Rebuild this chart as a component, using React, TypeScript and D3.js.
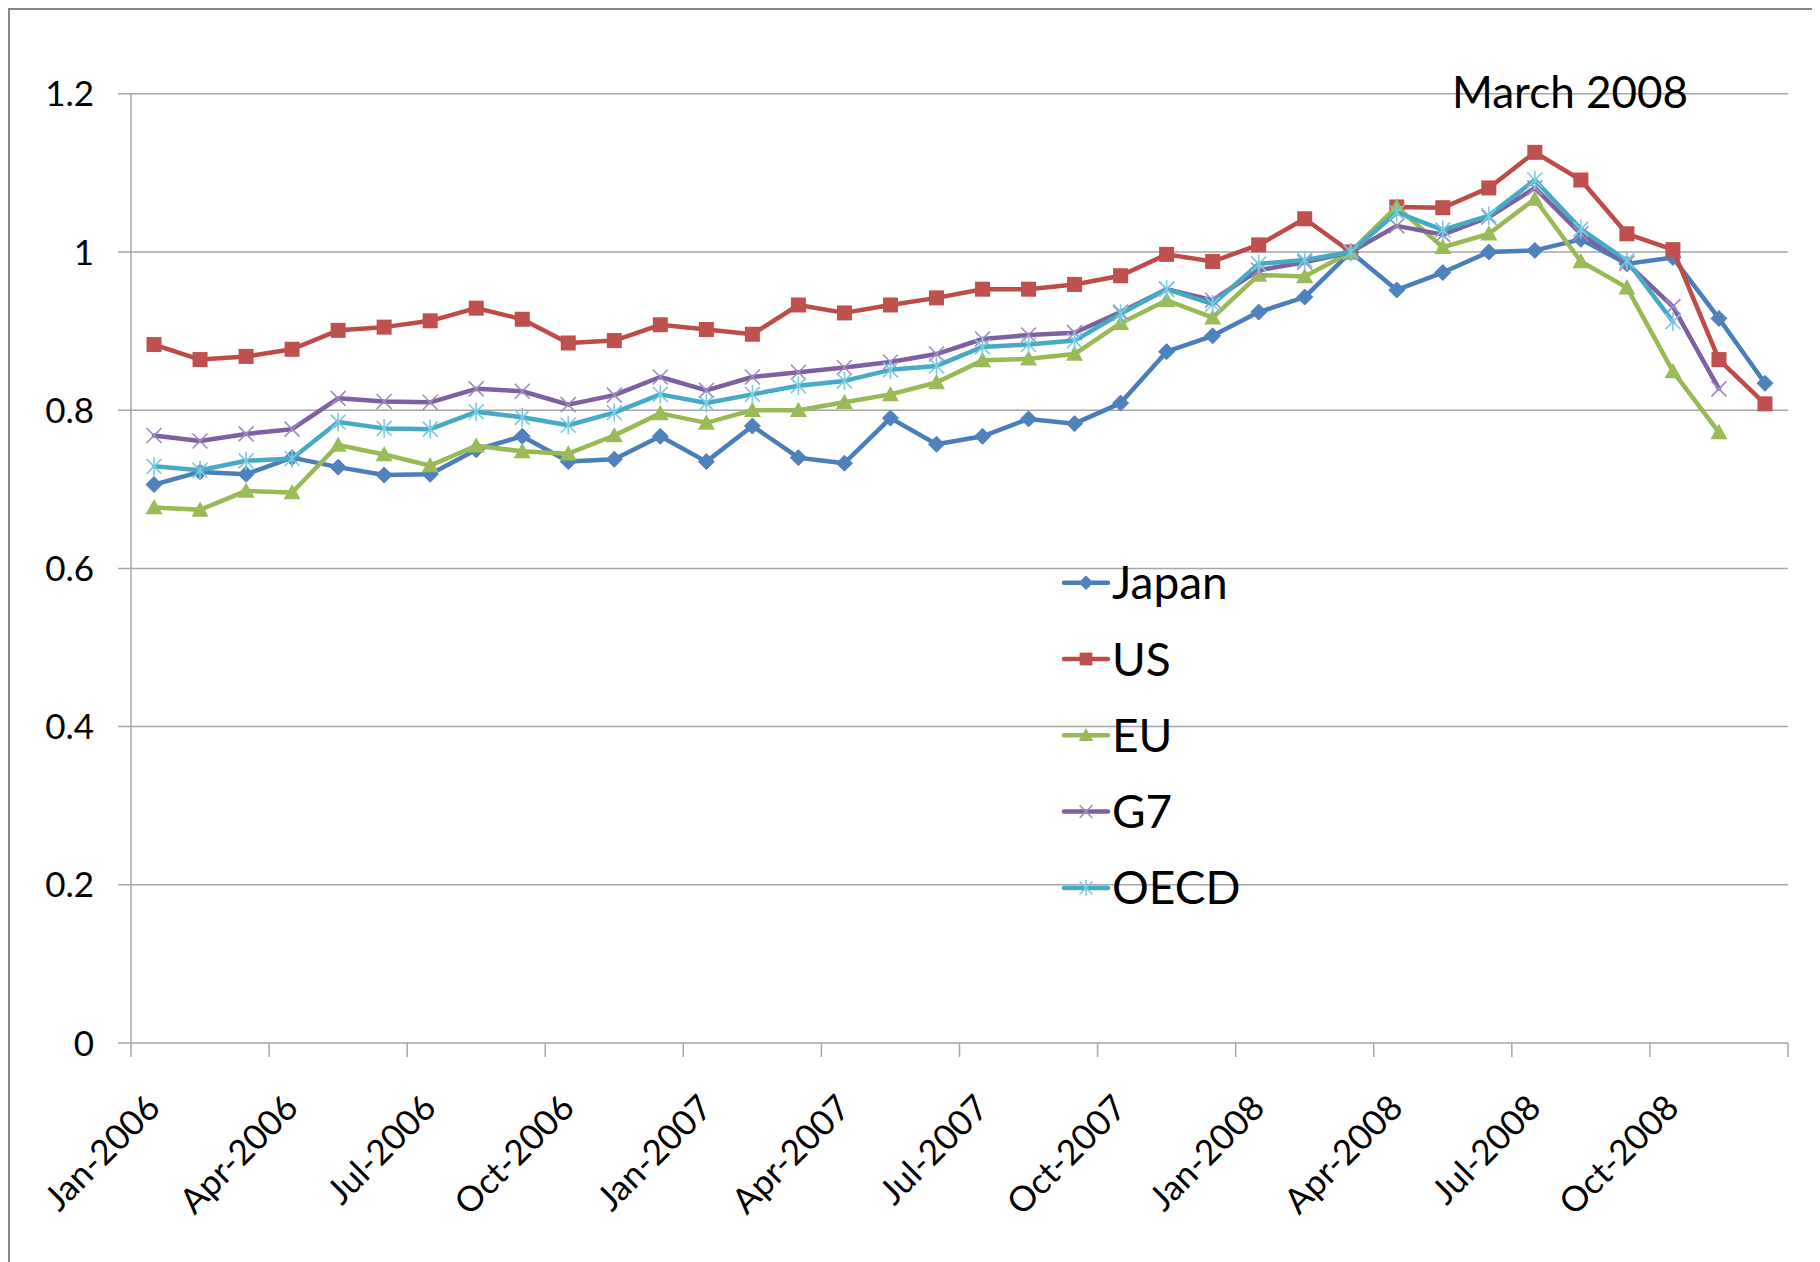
import * as d3 from 'd3';

// category axis: monthly, Jan 2006 - Dec 2008
const months = d3.timeMonth.range(new Date(2006, 0, 1), new Date(2009, 0, 1));
const fmtMonth = d3.timeFormat('%b-%Y');
const categories = months.map(m => fmtMonth(m));

const tickLabels = [
  'Jan-2006', 'Apr-2006', 'Jul-2006', 'Oct-2006',
  'Jan-2007', 'Apr-2007', 'Jul-2007', 'Oct-2007',
  'Jan-2008', 'Apr-2008', 'Jul-2008', 'Oct-2008',
];
const yTicks = [0, 0.2, 0.4, 0.6, 0.8, 1, 1.2];

const japan = [
  0.706, 0.722, 0.719, 0.740, 0.728, 0.718, 0.719, 0.750, 0.767, 0.735, 0.738, 0.767,
  0.735, 0.780, 0.740, 0.733, 0.790, 0.757, 0.767, 0.789, 0.783, 0.809, 0.874, 0.894,
  0.924, 0.943, 1.000, 0.952, 0.974, 1.000, 1.002, 1.016, 0.985, 0.993, 0.916, 0.834,
];
const us = [
  0.883, 0.864, 0.868, 0.877, 0.901, 0.905, 0.913, 0.929, 0.915, 0.885, 0.888, 0.908,
  0.902, 0.896, 0.933, 0.923, 0.933, 0.942, 0.953, 0.953, 0.959, 0.970, 0.997, 0.988,
  1.009, 1.042, 1.000, 1.057, 1.056, 1.081, 1.126, 1.091, 1.023, 1.003, 0.864, 0.808,
];
const eu = [
  0.677, 0.674, 0.698, 0.696, 0.756, 0.744, 0.730, 0.755, 0.748, 0.745, 0.768, 0.796,
  0.784, 0.800, 0.800, 0.810, 0.820, 0.835, 0.863, 0.865, 0.871, 0.910, 0.939, 0.917,
  0.971, 0.969, 1.000, 1.057, 1.006, 1.023, 1.067, 0.988, 0.955, 0.849, 0.772,
];
const g7 = [
  0.768, 0.761, 0.770, 0.776, 0.815, 0.811, 0.810, 0.827, 0.824, 0.807, 0.819, 0.842,
  0.825, 0.842, 0.848, 0.854, 0.861, 0.871, 0.890, 0.895, 0.898, 0.924, 0.953, 0.939,
  0.977, 0.987, 1.000, 1.033, 1.022, 1.044, 1.081, 1.023, 0.986, 0.931, 0.827,
];
const oecd = [
  0.729, 0.724, 0.736, 0.739, 0.785, 0.777, 0.776, 0.798, 0.791, 0.781, 0.797, 0.820,
  0.809, 0.820, 0.831, 0.837, 0.851, 0.856, 0.880, 0.883, 0.888, 0.922, 0.953, 0.934,
  0.985, 0.990, 1.000, 1.050, 1.028, 1.046, 1.091, 1.029, 0.989, 0.912,
];

type MarkerKind = 'diamond' | 'square' | 'triangle' | 'x' | 'star';

const series: { name: string; values: number[]; color: string; marker: MarkerKind; markerColor: string }[] = [
  { name: 'Japan', values: japan, color: '#4a7ebb', marker: 'diamond', markerColor: '#4f81bd' },
  { name: 'US', values: us, color: '#be4b48', marker: 'square', markerColor: '#c0504d' },
  { name: 'EU', values: eu, color: '#98b954', marker: 'triangle', markerColor: '#9bbb59' },
  { name: 'G7', values: g7, color: '#7d60a0', marker: 'x', markerColor: '#a08cc0' },
  { name: 'OECD', values: oecd, color: '#46aac5', marker: 'star', markerColor: '#7ccbe0' },
];

const W = 1812;
const H = 1254;
const plot = { left: 123, right: 1780, top: 85.8, bottom: 1035 };
const FONT = 'Lato, "Open Sans", sans-serif';

const Marker = ({ kind, x, y, color, s = 1 }: { kind: MarkerKind; x: number; y: number; color: string; s?: number }) => {
  if (kind === 'diamond') {
    const r = 8 * s;
    return <path d={`M${x},${y - r}L${x + r},${y}L${x},${y + r}L${x - r},${y}Z`} fill={color} stroke={color} strokeWidth={1} />;
  }
  if (kind === 'square') {
    const r = 7.5 * s;
    return <rect x={x - r} y={y - r} width={2 * r} height={2 * r} fill={color} />;
  }
  if (kind === 'triangle') {
    const r = 8.5 * s;
    return <path d={`M${x},${y - r}L${x + r},${y + r * 0.8}L${x - r},${y + r * 0.8}Z`} fill={color} />;
  }
  const r = 7.5 * s;
  const xPath = `M${x - r},${y - r}L${x + r},${y + r}M${x - r},${y + r}L${x + r},${y - r}`;
  if (kind === 'x') {
    return <path d={xPath} stroke={color} strokeWidth={1.6} fill="none" />;
  }
  return <path d={`${xPath}M${x},${y - r * 1.25}L${x},${y + r * 1.25}`} stroke={color} strokeWidth={1.6} fill="none" />;
};

export default function App() {
  const x = d3.scaleBand<string>().domain(categories).range([plot.left, plot.right]).padding(0);
  const cx = (i: number) => (x(categories[i]) as number) + x.bandwidth() / 2;
  const y = d3.scaleLinear().domain([0, 1.2]).range([plot.bottom, plot.top]);

  const line = d3.line<number>()
    .x((_, i) => cx(i))
    .y(d => y(d));

  const tickIdx = tickLabels.map(t => categories.indexOf(t));
  const boundaries = d3.range(0, categories.length + 1, 3).map(i =>
    i < categories.length ? (x(categories[i]) as number) : plot.right);

  const legendTop = 574.7;
  const legendStep = 76.3;

  return (
    <svg width={W} height={H} style={{ display: 'block', background: '#fff' }} fontFamily={FONT}>
      <rect x={1} y={1} width={W - 4} height={H + 20} fill="#fff" stroke="#878787" strokeWidth={2} />

      {/* gridlines + y ticks */}
      {yTicks.map(t => (
        <g key={t}>
          {t > 0 && (
            <line x1={plot.left - 13} x2={plot.right} y1={y(t)} y2={y(t)} stroke="#a6a6a6" strokeWidth={1.5} />
          )}
          {t === 0 && <line x1={plot.left - 13} x2={plot.left} y1={y(t)} y2={y(t)} stroke="#a6a6a6" strokeWidth={1.5} />}
          <text x={86} y={y(t) + 12.5} textAnchor="end" fontSize={35} fill="#000">
            {d3.format('~g')(t)}
          </text>
        </g>
      ))}

      {/* axes */}
      <line x1={plot.left} x2={plot.left} y1={plot.top} y2={plot.bottom} stroke="#a6a6a6" strokeWidth={1.5} />
      <line x1={plot.left} x2={plot.right} y1={plot.bottom} y2={plot.bottom} stroke="#a6a6a6" strokeWidth={1.5} />
      {boundaries.map((bx, i) => (
        <line key={i} x1={bx} x2={bx} y1={plot.bottom} y2={plot.bottom + 14} stroke="#a6a6a6" strokeWidth={1.5} />
      ))}
      {tickIdx.map((ci, i) => {
        const px = cx(ci) + 8;
        const py = 1102;
        return (
          <text key={i} x={px} y={py} transform={`rotate(-45 ${px} ${py})`} textAnchor="end" fontSize={35} fill="#000">
            {tickLabels[i]}
          </text>
        );
      })}

      {/* series */}
      {series.map(s => (
        <g key={s.name}>
          <path d={line(s.values) || ''} fill="none" stroke={s.color} strokeWidth={4.5} strokeLinejoin="round" strokeLinecap="round" />
          {s.values.map((v, i) => (
            <Marker key={i} kind={s.marker} x={cx(i)} y={y(v)} color={s.markerColor} />
          ))}
        </g>
      ))}

      <text x={1444} y={100} fontSize={44} fill="#000">March 2008</text>

      {/* legend */}
      {series.map((s, i) => {
        const ly = legendTop + i * legendStep;
        return (
          <g key={s.name}>
            <line x1={1056} x2={1100} y1={ly} y2={ly} stroke={s.color} strokeWidth={4.5} strokeLinecap="round" />
            <Marker kind={s.marker} x={1078} y={ly} color={s.markerColor} s={0.85} />
            <text x={1104} y={ly + 16.5} fontSize={46} fill="#000">{s.name}</text>
          </g>
        );
      })}
    </svg>
  );
}
